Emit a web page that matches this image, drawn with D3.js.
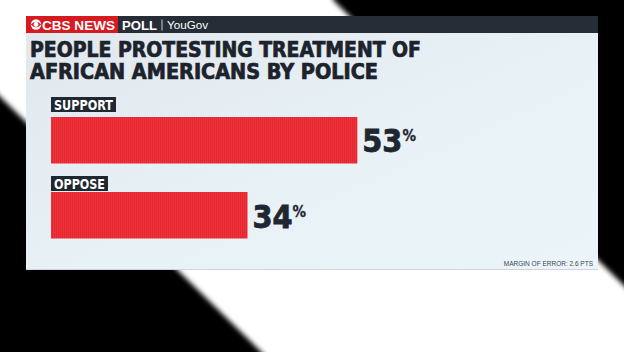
<!DOCTYPE html>
<html>
<head>
<meta charset="utf-8">
<script src="https://cdn.jsdelivr.net/npm/d3@7"></script>
<style>
  html, body { margin: 0; padding: 0; background: #fff; }
  svg { display: block; }
</style>
</head>
<body>
<div id="chart"></div>
<script>
// poll answers and shares (%)
const answers = ["SUPPORT", "OPPOSE"];
const shares = [53, 34];
const titleLines = ["PEOPLE PROTESTING TREATMENT OF", "AFRICAN AMERICANS BY POLICE"];
const footNote = "MARGIN OF ERROR: 2.6 PTS";

const W = 624, H = 352;
const panel = { x: 26, y: 16, w: 572, h: 253 };
const condensed = "'Liberation Sans Narrow','DejaVu Sans Condensed','Arial Narrow',sans-serif";

const svg = d3.select("#chart").append("svg")
    .attr("width", W)
    .attr("height", H);

const defs = svg.append("defs");

// soft edges for the background stripes
defs.append("filter").attr("id", "soft")
    .attr("filterUnits", "userSpaceOnUse")
    .attr("x", -60).attr("y", -60).attr("width", 800).attr("height", 500)
    .append("feGaussianBlur").attr("stdDeviation", 2.5);

const panelGrad = defs.append("linearGradient").attr("id", "panelGrad")
    .attr("x1", "0").attr("y1", "0").attr("x2", "1").attr("y2", "1");
panelGrad.append("stop").attr("offset", "0%").attr("stop-color", "#e0e7ed");
panelGrad.append("stop").attr("offset", "55%").attr("stop-color", "#e8f1f5");
panelGrad.append("stop").attr("offset", "100%").attr("stop-color", "#ebf4f8");

// fine vertical stripes on the bars
const stripes = defs.append("pattern").attr("id", "stripes")
    .attr("patternUnits", "userSpaceOnUse")
    .attr("width", 2).attr("height", 10);
stripes.append("rect").attr("width", 2).attr("height", 10).attr("fill", "#f0313a");
stripes.append("rect").attr("width", 0.6).attr("height", 10).attr("fill", "#d9232b");

// background: white diagonal band between two black areas
svg.append("rect").attr("width", W).attr("height", H).attr("fill", "#fff");
const bg = svg.append("g").attr("filter", "url(#soft)");
bg.append("path")
    .attr("d", "M333,0 L333,-20 L720,-20 L720,380 Z")
    .attr("fill", "#000");
bg.append("path")
    .attr("d", "M-20,77 L290,380 L-20,380 Z")
    .attr("fill", "#000");

// panel
svg.append("rect")
    .attr("x", panel.x).attr("y", panel.y + 1)
    .attr("width", panel.w).attr("height", panel.h)
    .attr("fill", "#cfd5da");
svg.append("rect")
    .attr("x", panel.x).attr("y", panel.y)
    .attr("width", panel.w).attr("height", panel.h)
    .attr("fill", "url(#panelGrad)");

// header bar
const header = svg.append("g");
header.append("rect")
    .attr("x", panel.x).attr("y", panel.y)
    .attr("width", panel.w).attr("height", 17)
    .attr("fill", "#262d37");
header.append("rect")
    .attr("x", panel.x).attr("y", panel.y)
    .attr("width", 92).attr("height", 17)
    .attr("fill", "#d71920");

// CBS eye
const eye = header.append("g").attr("transform", "translate(36,24.5)");
eye.append("circle").attr("r", 5.2).attr("fill", "#fff");
eye.append("path").attr("d", "M-5.2,0 Q0,-5.5 5.2,0 Q0,5.5 -5.2,0 Z").attr("fill", "#d71920");
eye.append("circle").attr("r", 2.4).attr("fill", "#fff");

header.append("text")
    .attr("x", 42).attr("y", 29.5)
    .attr("textLength", 73).attr("lengthAdjust", "spacingAndGlyphs")
    .attr("font-family", "'Liberation Sans',Arial,sans-serif")
    .attr("font-weight", "bold").attr("font-size", 13)
    .attr("fill", "#fff").text("CBS NEWS");
header.append("text")
    .attr("x", 122).attr("y", 29.5)
    .attr("textLength", 35).attr("lengthAdjust", "spacingAndGlyphs")
    .attr("font-family", "'Liberation Sans',Arial,sans-serif")
    .attr("font-weight", "bold").attr("font-size", 13)
    .attr("fill", "#fff").text("POLL");
header.append("rect")
    .attr("x", 161.5).attr("y", 19.5).attr("width", 1).attr("height", 11)
    .attr("fill", "#c9ced4");
header.append("text")
    .attr("x", 167).attr("y", 29)
    .attr("textLength", 41).attr("lengthAdjust", "spacingAndGlyphs")
    .attr("font-family", "'Liberation Sans',Arial,sans-serif")
    .attr("font-size", 11.5)
    .attr("fill", "#fff").text("YouGov");

// title
const titleWidths = [391, 348];
svg.selectAll(".title")
    .data(titleLines)
    .join("text")
    .attr("class", "title")
    .attr("x", 30)
    .attr("y", (d, i) => 57 + i * 22)
    .attr("textLength", (d, i) => titleWidths[i])
    .attr("lengthAdjust", "spacingAndGlyphs")
    .attr("font-family", condensed)
    .attr("font-weight", "bold")
    .attr("font-size", 20.5)
    .attr("fill", "#1c232c")
    .attr("stroke", "#1c232c")
    .attr("stroke-width", 0.7)
    .text(d => d);

// bars
const x = d3.scaleLinear().domain([0, 100]).range([51, 51 + 578]);
const rowTop = d3.scaleOrdinal().domain(answers).range([97, 176]);
const labelW = { SUPPORT: 65, OPPOSE: 57 };

const rows = svg.selectAll(".row")
    .data(answers.map((a, i) => ({ answer: a, share: shares[i] })))
    .join("g")
    .attr("class", "row")
    .attr("transform", d => `translate(0,${rowTop(d.answer)})`);

rows.append("rect")
    .attr("x", 51).attr("y", 0)
    .attr("width", d => labelW[d.answer]).attr("height", 15)
    .attr("fill", "#1f2731");

rows.append("text")
    .attr("x", 54).attr("y", 12.5)
    .attr("textLength", d => labelW[d.answer] - 6)
    .attr("lengthAdjust", "spacingAndGlyphs")
    .attr("font-family", condensed)
    .attr("font-weight", "bold").attr("font-size", 13.5)
    .attr("fill", "#fff")
    .text(d => d.answer);

rows.append("rect")
    .attr("x", x(0)).attr("y", d => d.answer === "SUPPORT" ? 20 : 16)
    .attr("width", d => x(d.share) - x(0))
    .attr("height", 46.5)
    .attr("fill", "url(#stripes)");

const val = rows.append("text")
    .attr("x", d => x(d.share) + 5)
    .attr("y", d => d.answer === "SUPPORT" ? 54.5 : 51.5)
    .attr("font-family", condensed)
    .attr("font-weight", "bold")
    .attr("fill", "#1f2731")
    .attr("stroke", "#1f2731")
    .attr("stroke-width", 0.8);
val.append("tspan")
    .attr("font-size", 32)
    .text(d => d.share);
val.append("tspan")
    .attr("font-size", 15)
    .attr("stroke-width", 0.3)
    .attr("dy", -11)
    .text("%");

// footnote
svg.append("text")
    .attr("x", 593).attr("y", 266)
    .attr("text-anchor", "end")
    .attr("font-family", "'Liberation Sans',Arial,sans-serif")
    .attr("font-size", 6.5)
    .attr("fill", "#3d4752")
    .text(footNote);
</script>
</body>
</html>
